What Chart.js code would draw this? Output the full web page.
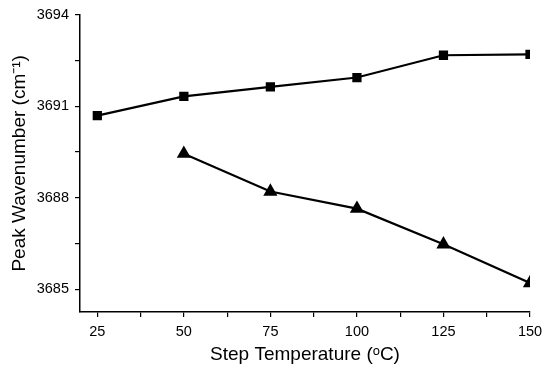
<!DOCTYPE html>
<html><head><meta charset="utf-8">
<script src="https://cdn.jsdelivr.net/npm/chart.js@4/dist/chart.umd.min.js"></script>
<style>html,body{margin:0;padding:0;background:#fff}#w{width:550px;height:370px}</style>
</head><body><div id="w"><canvas id="c"></canvas></div>
<script>
const temps = [25, 50, 75, 100, 125, 150];
const squareValues = [3690.69, 3691.32, 3691.63, 3691.94, 3692.67, 3692.70];
const triangleTemps = [50, 75, 100, 125, 150];
const triangleValues = [3689.44, 3688.20, 3687.64, 3686.47, 3685.20];
const xTickLabels = [25, 50, 75, 100, 125, 150];
const yTickLabels = [3685, 3688, 3691, 3694];

const pts = (xs, ys) => xs.map((x, i) => ({x, y: ys[i]}));

new Chart(document.getElementById('c'), {
  type: 'line',
  data: { datasets: [
    { data: pts(temps, squareValues), borderColor: '#000', backgroundColor: '#000', borderWidth: 2.2,
      pointStyle: 'rect', pointRadius: 5, tension: 0 },
    { data: pts(triangleTemps, triangleValues), borderColor: '#000', backgroundColor: '#000', borderWidth: 2.2,
      pointStyle: 'triangle', pointRadius: 6, tension: 0 }
  ]},
  options: {
    responsive: true, maintainAspectRatio: false, animation: false,
    layout: { padding: { top: 12, right: 20, left: 4, bottom: 0 } },
    plugins: { legend: { display: false }, tooltip: { enabled: false } },
    scales: {
      x: { type: 'linear', min: 20, max: 150,
        afterBuildTicks: s => { const t=[]; for (let v=25; v<=150; v+=12.5) t.push({value:v}); s.ticks=t; },
        afterFit: s => { s.height = 58; },
        ticks: { color: '#000', font: { family: 'Liberation Sans', size: 14.5 }, padding: 6, maxRotation: 0, autoSkip: false,
          callback: v => xTickLabels.includes(v) ? String(v) : '' },
        grid: { drawOnChartArea: false, drawTicks: true, tickLength: 5, color: '#000', lineWidth: 1.2 },
        border: { color: '#000', width: 1.5 },
        title: { display: true, text: 'Step Temperature (ᵒC)', color: '#000', font: { family: 'Liberation Sans', size: 19 }, padding: { top: 0 } }
      },
      y: { type: 'linear', min: 3684.25, max: 3694,
        afterBuildTicks: s => { const t=[]; for (let v=3685; v<=3694; v+=1.5) t.push({value:v}); s.ticks=t; },
        afterFit: s => { s.width = 76; },
        ticks: { color: '#000', font: { family: 'Liberation Sans', size: 14.5 }, padding: 6, autoSkip: false,
          callback: v => yTickLabels.includes(v) ? String(v) : '' },
        grid: { drawOnChartArea: false, drawTicks: true, tickLength: 5, color: '#000', lineWidth: 1.2 },
        border: { color: '#000', width: 1.5 },
        title: { display: true, text: 'Peak Wavenumber (cm⁻¹)', color: '#000', font: { family: 'Liberation Sans', size: 19 }, padding: { bottom: 0 } }
      }
    }
  }
});
</script></body></html>
